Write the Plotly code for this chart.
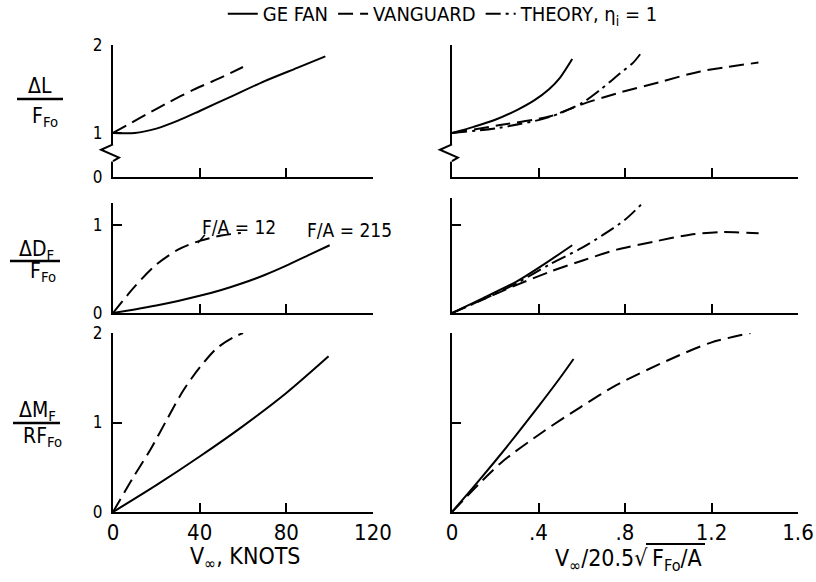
import plotly.graph_objects as go

FONT = "DejaVu Sans Condensed, DejaVu Sans, sans-serif"

# ---------------- data ----------------
# Top row: dL / F_Fo
lift_kn_ge_x = [0, 10, 20, 30, 40, 55, 70, 85, 98]
lift_kn_ge_y = [1.0, 1.0, 1.05, 1.14, 1.25, 1.42, 1.59, 1.74, 1.87]
lift_kn_vg_x = [0, 8, 16, 25, 37, 49, 60]
lift_kn_vg_y = [1.0, 1.11, 1.22, 1.34, 1.49, 1.62, 1.75]
lift_pr_ge_x = [0, 0.1, 0.2, 0.3, 0.38, 0.45, 0.5, 0.556]
lift_pr_ge_y = [1.0, 1.07, 1.15, 1.26, 1.37, 1.50, 1.63, 1.84]
lift_pr_vg_x = [0, 0.222, 0.454, 0.593, 0.762, 0.963, 1.148, 1.417]
lift_pr_vg_y = [1.0, 1.09, 1.19, 1.32, 1.45, 1.58, 1.70, 1.80]
lift_pr_th_x = [0, 0.22, 0.45, 0.60, 0.685, 0.778, 0.838, 0.884]
lift_pr_th_y = [1.0, 1.06, 1.18, 1.34, 1.49, 1.68, 1.80, 1.94]

# Middle row: dD_F / F_Fo
drag_kn_ge_x = [0, 10, 20, 30, 40, 50, 60, 70, 80, 90, 100]
drag_kn_ge_y = [0, 0.041, 0.086, 0.137, 0.195, 0.262, 0.341, 0.432, 0.538, 0.655, 0.77]
drag_kn_vg_x = [0, 10, 20, 30, 40, 50, 59]
drag_kn_vg_y = [0, 0.30, 0.55, 0.72, 0.82, 0.88, 0.91]
drag_pr_ge_x = [0, 0.144, 0.30, 0.42, 0.556]
drag_pr_ge_y = [0, 0.17, 0.36, 0.545, 0.77]
drag_pr_th_x = [0, 0.15, 0.30, 0.45, 0.60, 0.70, 0.80, 0.886]
drag_pr_th_y = [0, 0.16, 0.34, 0.55, 0.74, 0.89, 1.06, 1.26]
drag_pr_vg_x = [0, 0.30, 0.454, 0.608, 0.762, 0.932, 1.10, 1.24, 1.418]
drag_pr_vg_y = [0, 0.32, 0.47, 0.60, 0.72, 0.81, 0.89, 0.92, 0.906]

# Bottom row: dM_F / R F_Fo
mom_kn_ge_x = [0, 20, 40, 60, 80, 99.5]
mom_kn_ge_y = [0, 0.30, 0.62, 0.96, 1.33, 1.74]
mom_kn_vg_x = [0, 9.4, 17.1, 24.8, 32.5, 40.2, 47.9, 55.5, 60]
mom_kn_vg_y = [0, 0.39, 0.69, 1.03, 1.36, 1.62, 1.83, 1.95, 2.0]
mom_pr_ge_x = [0, 0.1, 0.2, 0.3, 0.4, 0.5, 0.562]
mom_pr_ge_y = [0, 0.28, 0.57, 0.87, 1.18, 1.50, 1.71]
mom_pr_vg_x = [0, 0.222, 0.423, 0.593, 0.762, 0.994, 1.194, 1.38]
mom_pr_vg_y = [0, 0.54, 0.90, 1.17, 1.42, 1.69, 1.89, 2.0]

knot_ticks = [0, 40, 80, 120]
knot_labels = ["0", "40", "80", "120"]
par_ticks = [0, 0.4, 0.8, 1.2, 1.6]
par_labels = ["0", ".4", ".8", "1.2", "1.6"]

# ---------------- figure ----------------
DASH = "15px,7px"
DASHDOT = "15px,5px,3px,5px"
fig = go.Figure()


def add(xs, ys, ax, dash, name, show):
    fig.add_trace(go.Scatter(
        x=xs, y=ys, xaxis="x" + ax, yaxis="y" + ax, mode="lines",
        line=dict(color="black", width=2, dash=dash, shape="spline", smoothing=0.8),
        name=name, legendgroup=name, showlegend=show, hoverinfo="skip"))


GE = "GE FAN"
VG = "VANGUARD"
TH = "THEORY, η<sub>i</sub> = 1"

add(lift_kn_ge_x, lift_kn_ge_y, "", "solid", GE, True)
add(lift_kn_vg_x, lift_kn_vg_y, "", DASH, VG, True)
add(lift_pr_th_x, lift_pr_th_y, "2", DASHDOT, TH, True)
add(lift_pr_ge_x, lift_pr_ge_y, "2", "solid", GE, False)
add(lift_pr_vg_x, lift_pr_vg_y, "2", DASH, VG, False)

add(drag_kn_ge_x, drag_kn_ge_y, "3", "solid", GE, False)
add(drag_kn_vg_x, drag_kn_vg_y, "3", DASH, VG, False)
add(drag_pr_ge_x, drag_pr_ge_y, "4", "solid", GE, False)
add(drag_pr_th_x, drag_pr_th_y, "4", DASHDOT, TH, False)
add(drag_pr_vg_x, drag_pr_vg_y, "4", DASH, VG, False)

add(mom_kn_ge_x, mom_kn_ge_y, "5", "solid", GE, False)
add(mom_kn_vg_x, mom_kn_vg_y, "5", DASH, VG, False)
add(mom_pr_ge_x, mom_pr_ge_y, "6", "solid", GE, False)
add(mom_pr_vg_x, mom_pr_vg_y, "6", DASH, VG, False)

W, H = 816, 582


def px_x(p):
    return p / W


def px_y(p):
    return 1 - p / H


yfont = dict(family=FONT, size=17, color="black")
xfont = dict(family=FONT, size=22, color="black")
tfont = dict(family=FONT, size=23, color="black")
common = dict(showline=True, linecolor="black", linewidth=2, ticks="inside",
              ticklen=9, tickwidth=2, tickcolor="black", showgrid=False,
              zeroline=False, tickfont=yfont, automargin=False)

xl = [px_x(113), px_x(373)]
xr = [px_x(452), px_x(798)]
ytop = [px_y(177), px_y(45)]
ymidl = [px_y(313), px_y(203)]
ymidr = [px_y(313), px_y(198)]
ybot = [px_y(512), px_y(333)]

layout_axes = dict(
    xaxis=dict(common, domain=xl, range=[0, 120], tickvals=knot_ticks, showticklabels=False, anchor="y"),
    yaxis=dict(common, domain=ytop, range=[0.5, 2], tickvals=[0.5, 1, 2], ticktext=["0", "1", "2"],
               anchor="x", ticklabelstandoff=5),
    xaxis2=dict(common, domain=xr, range=[0, 1.6], tickvals=par_ticks, showticklabels=False, anchor="y2"),
    yaxis2=dict(common, domain=ytop, range=[0.5, 2], tickvals=[2], showticklabels=False, anchor="x2"),
    xaxis3=dict(common, domain=xl, range=[0, 120], tickvals=knot_ticks, showticklabels=False, anchor="y3"),
    yaxis3=dict(common, domain=ymidl, range=[0, 1.25], tickvals=[0, 1], anchor="x3", ticklabelstandoff=5),
    xaxis4=dict(common, domain=xr, range=[0, 1.6], tickvals=par_ticks, showticklabels=False, anchor="y4"),
    yaxis4=dict(common, domain=ymidr, range=[0, 1.307], tickvals=[1], showticklabels=False, anchor="x4"),
    xaxis5=dict(common, domain=xl, range=[0, 120], tickvals=knot_ticks, ticktext=knot_labels, anchor="y5",
                tickfont=xfont, ticklabelstandoff=0),
    yaxis5=dict(common, domain=ybot, range=[0, 2], tickvals=[0, 1, 2], anchor="x5", ticklabelstandoff=5),
    xaxis6=dict(common, domain=xr, range=[0, 1.6], tickvals=par_ticks, ticktext=par_labels, anchor="y6",
                tickfont=xfont, ticklabelstandoff=0),
    yaxis6=dict(common, domain=ybot, range=[0, 2], tickvals=[1, 2], showticklabels=False, anchor="x6"),
)

shapes = []
annotations = []

# axis breaks on the top row
for xa, ya, left, right in [("x", "y", -0.046, 0.023), ("x2", "y2", -0.035, 0.017)]:
    shapes.append(dict(type="line", xref=xa + " domain", yref=ya, x0=0, x1=0, y0=0.87, y1=0.675,
                       line=dict(color="white", width=5)))
    shapes.append(dict(type="path", xref=xa + " domain", yref=ya,
                       path=f"M 0,0.87 L {left},0.81 L {right},0.72 L 0,0.68",
                       line=dict(color="black", width=2)))

# y-axis fraction labels
lab = dict(family=FONT, size=21, color="black")
fracs = [
    ("ΔL", "F<sub>Fo</sub>", 40, 86, 45, 117, 17, 63, 99),
    ("ΔD<sub>F</sub>", "F<sub>Fo</sub>", 36, 250, 43, 272, 10, 60, 261),
    ("ΔM<sub>F</sub>", "RF<sub>Fo</sub>", 37, 411, 42, 437, 13, 60, 423),
]
for num, den, nx, ny, dx, dy, b0, b1, by in fracs:
    annotations.append(dict(text=num, x=px_x(nx), y=px_y(ny), xref="paper", yref="paper",
                            showarrow=False, font=lab, xanchor="center", yanchor="middle"))
    annotations.append(dict(text=den, x=px_x(dx), y=px_y(dy), xref="paper", yref="paper",
                            showarrow=False, font=lab, xanchor="center", yanchor="middle"))
    shapes.append(dict(type="line", xref="paper", yref="paper", x0=px_x(b0), x1=px_x(b1),
                       y0=px_y(by), y1=px_y(by), line=dict(color="black", width=2.5)))

# x-axis titles
annotations.append(dict(text="V<sub>∞</sub>, KNOTS", x=px_x(245), y=px_y(558), xref="paper", yref="paper",
                        showarrow=False, font=tfont, xanchor="center", yanchor="middle"))
annotations.append(dict(text="V<sub>∞</sub>/20.5√", x=px_x(650), y=px_y(560),
                        xref="paper", yref="paper",
                        showarrow=False, font=tfont, xanchor="right", yanchor="middle"))
annotations.append(dict(text="F<sub>Fo</sub>/A", x=px_x(650), y=px_y(560),
                        xref="paper", yref="paper",
                        showarrow=False, font=tfont, xanchor="left", yanchor="middle"))
# radical bar
shapes.append(dict(type="line", xref="paper", yref="paper", x0=px_x(646), x1=px_x(705),
                   y0=px_y(544), y1=px_y(544), line=dict(color="black", width=2)))

# curve labels in the middle-left panel
cl = dict(family=FONT, size=19, color="black")
annotations.append(dict(text="F/A = 12", x=40, y=0.98, xref="x3", yref="y3", showarrow=False,
                        font=cl, xanchor="left", yanchor="middle"))
annotations.append(dict(text="F/A = 215", x=88.6, y=0.94, xref="x3", yref="y3", showarrow=False,
                        font=cl, xanchor="left", yanchor="middle"))
shapes.append(dict(type="line", xref="x3", yref="y3", x0=39.2, y0=0.795, x1=42.4, y1=0.89,
                   line=dict(color="black", width=1.5)))

fig.update_layout(
    width=W, height=H,
    margin=dict(l=0, r=0, t=0, b=0, pad=0, autoexpand=False),
    paper_bgcolor="white", plot_bgcolor="white",
    font=dict(family=FONT, color="black"),
    showlegend=True,
    legend=dict(orientation="h", x=0.273, y=1.01, xanchor="left", yanchor="top",
                font=dict(family=FONT, size=20, color="black"), itemwidth=30,
                bgcolor="rgba(0,0,0,0)"),
    shapes=shapes, annotations=annotations,
    **layout_axes,
)

fig.write_html("out.html", config={"displayModeBar": False},
               post_script="document.body.style.margin='0';document.body.style.overflow='hidden';")
